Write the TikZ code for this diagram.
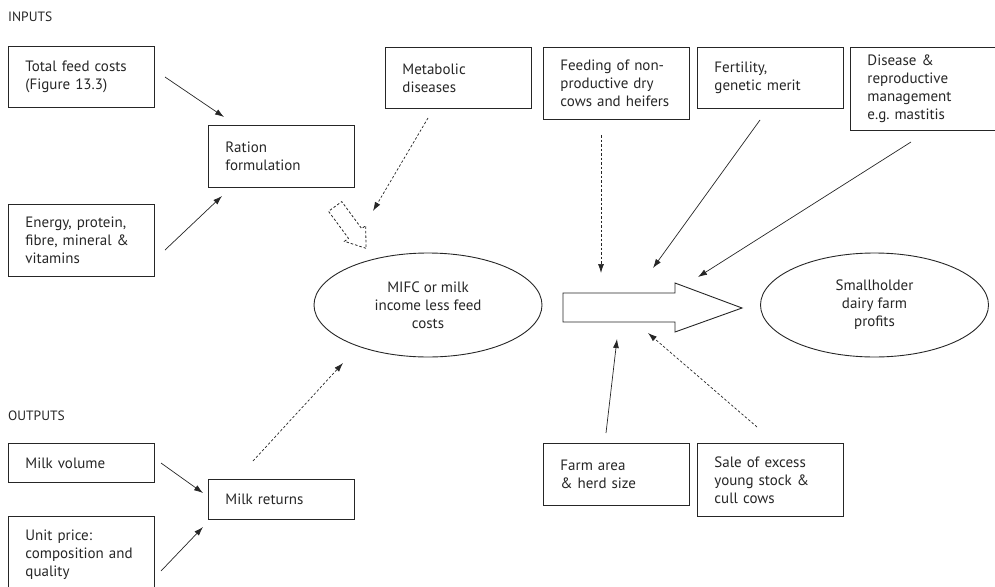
\documentclass[tikz,border=0pt]{standalone}
\usepackage{fontspec}
\setmainfont{PT Sans}
\usetikzlibrary{arrows.meta,shapes.geometric}
\definecolor{ink}{HTML}{262626}
\frenchspacing
\tikzset{
  box/.style={draw=ink, line width=0.9pt, rectangle, text=ink, align=left,
    text width=112pt, inner xsep=17pt, inner ysep=0pt, minimum width=146pt,
    font=\fontsize{15}{18}\selectfont},
  oval/.style={draw=ink, line width=0.9pt, ellipse, text=ink, align=center,
    minimum width=228pt, minimum height=104pt, inner sep=0pt,
    font=\fontsize{15}{18}\selectfont},
  heading/.style={text=ink, anchor=west, inner sep=0pt, font=\fontsize{13.5}{16}\selectfont},
  link/.style={draw=ink, line width=0.7pt, -{Latex[length=9pt,width=6pt]}},
  hint/.style={link, dash pattern=on 2.5pt off 2pt},
}
\begin{document}
\begin{tikzpicture}[x=1pt,y=-1pt]
\useasboundingbox (0,0) rectangle (995,586);

% section headings
\node[heading] (inputs) at (8,17) {INPUTS};
\node[heading] (outputs) at (8,416) {OUTPUTS};

% input boxes
\node[box, minimum height=61pt, anchor=north west] (feedcost) at (8,46) {Total feed costs\\(Figure 13.3)};
\node[box, minimum height=62pt, anchor=north west] (ration) at (208,125) {Ration\\formulation};
\node[box, minimum height=72pt, anchor=north west] (energy) at (8,204) {Energy, protein,\\fibre, mineral \&\\vitamins};
\node[box, minimum height=61pt, anchor=north west] (metab) at (385,47) {Metabolic\\diseases};
\node[box, minimum height=72pt, anchor=north west] (dry) at (543,47) {Feeding of non-\\productive dry\\cows and heifers};
\node[box, minimum height=61pt, anchor=north west] (fert) at (697,47) {Fertility,\\genetic merit};
\node[box, minimum height=83pt, anchor=north west] (disease) at (850,47) {Disease \&\\reproductive\\management\\e.g.\ mastitis};

% output boxes
\node[box, minimum height=39pt, anchor=north west] (volume) at (8,443) {Milk volume};
\node[box, minimum height=40pt, anchor=north west] (returns) at (208,479) {Milk returns};
\node[box, minimum height=76pt, anchor=north west] (price) at (8,516) {Unit price:\\composition and\\quality};
\node[box, minimum height=62pt, anchor=north west] (area) at (543,443) {Farm area\\\& herd size};
\node[box, minimum height=73pt, anchor=north west] (sale) at (697,443) {Sale of excess\\young stock \&\\cull cows};

% central ovals
\node[oval] (mifc) at (428,305) {MIFC or milk\\income less feed\\costs};
\node[oval] (profit) at (874.5,305) {Smallholder\\dairy farm\\profits};

% broad hollow arrow between the two ovals
\draw[ink, line width=0.9pt, fill=white]
  (563,293) -- (675,293) -- (675,283) -- (742,308) -- (675,332) -- (675,322) -- (563,322) -- cycle;
\coordinate (flow) at (650,308);

% dashed hollow arrow into the MIFC oval
\begin{scope}[shift={(366,248.3)}, rotate=-53.6]
  \draw[ink, line width=0.8pt, dash pattern=on 2.5pt off 2pt]
    (0,0) -- (-18.4,13.2) -- (-18.4,8.2) -- (-52,8.2) -- (-52,-8.2)
    -- (-18.4,-8.2) -- (-18.4,-13.2) -- cycle;
\end{scope}

% connector end points
\coordinate (feedcost-out) at (165,77);
\coordinate (ration-in1) at (224,117);
\coordinate (energy-out) at (165,250);
\coordinate (ration-in2) at (222,196);
\coordinate (metab-out) at (428,118);
\coordinate (mifc-in1) at (373,211);
\coordinate (dry-out) at (601,135);
\coordinate (flow-in1) at (601,273);
\coordinate (fert-out) at (760,120);
\coordinate (flow-in2) at (653,268);
\coordinate (disease-out) at (911,142);
\coordinate (flow-in3) at (698,277);
\coordinate (area-out) at (606,433);
\coordinate (flow-in4) at (617,339);
\coordinate (sale-out) at (757,427);
\coordinate (flow-in5) at (648,333);
\coordinate (volume-out) at (161,463);
\coordinate (returns-in1) at (203,493);
\coordinate (price-out) at (161,571);
\coordinate (returns-in2) at (203,527);
\coordinate (returns-out) at (253,461);
\coordinate (mifc-in2) at (343,363);

% connectors
\draw[link] (feedcost-out) -- (ration-in1);
\draw[link] (energy-out) -- (ration-in2);
\draw[hint] (metab-out) -- (mifc-in1);
\draw[hint] (dry-out) -- (flow-in1);
\draw[link] (fert-out) -- (flow-in2);
\draw[link] (disease-out) -- (flow-in3);
\draw[link] (area-out) -- (flow-in4);
\draw[hint] (sale-out) -- (flow-in5);
\draw[link] (volume-out) -- (returns-in1);
\draw[link] (price-out) -- (returns-in2);
\draw[hint] (returns-out) -- (mifc-in2);
\end{tikzpicture}
\end{document}
